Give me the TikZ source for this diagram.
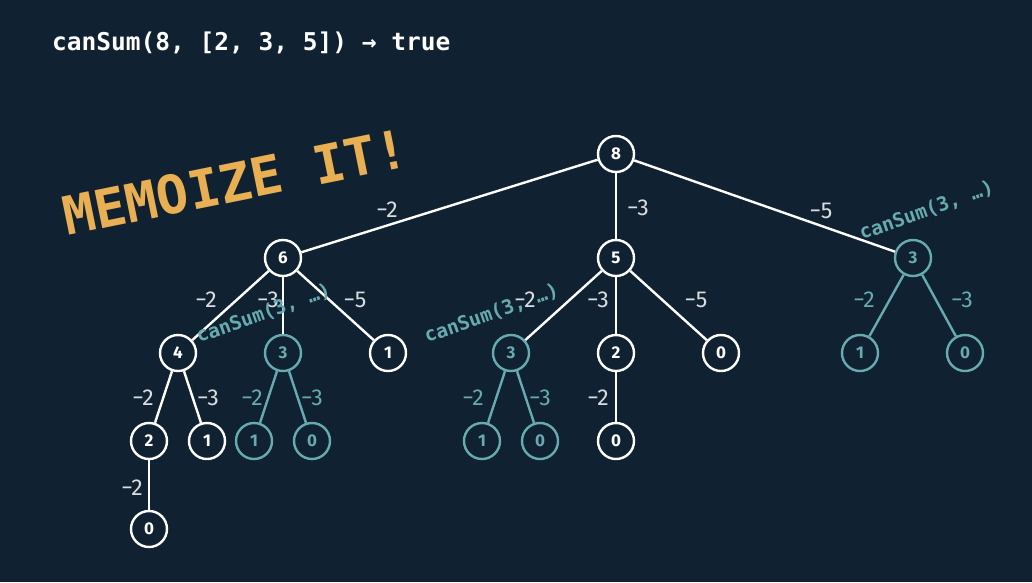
\documentclass[tikz,border=0pt]{standalone}
\usepackage{fontspec}
\setmainfont{Fira Sans}
\newfontfamily\codefont{DejaVu Sans Mono}
\definecolor{bgc}{HTML}{102232}
\definecolor{tealc}{HTML}{67AAB0}
\definecolor{orangec}{HTML}{E8B052}
\definecolor{lblc}{HTML}{DADDE0}
\tikzset{
  nd/.style={circle, draw=white, line width=2.4pt, minimum size=36pt, inner sep=0pt, text=white, font=\fontsize{17}{17}\selectfont\bfseries},
  tnd/.style={nd, draw=tealc, text=tealc},
  edge/.style={draw=white, line width=2.4pt},
  tedge/.style={draw=tealc, line width=2.4pt},
  lbl/.style={text=lblc, font=\fontsize{23}{23}\selectfont, inner sep=0pt},
  tlbl/.style={lbl, text=tealc},
  call/.style={text=tealc, font=\codefont\bfseries\fontsize{19.5}{19.5}\selectfont, inner sep=0pt, anchor=base west, rotate=19.5},
}
\begin{document}
\begin{tikzpicture}[x=1pt,y=-1pt]
\fill[bgc] (0,0) rectangle (1032,582);
\useasboundingbox (0,0) rectangle (1032,582);

% title
\node[text=white, font=\codefont\bfseries\fontsize{24.5}{24.5}\selectfont, anchor=base west, inner sep=0pt] (title) at (52,50) {canSum(8, [2, 3, 5]) → true};
\node[text=orangec, font=\codefont\bfseries\fontsize{53}{53}\selectfont, anchor=base west, inner sep=0pt, rotate=11.5] (memo) at (67,236) {MEMOIZE IT!};

% nodes
\node[nd] (n8) at (616,154) {8};
\node[nd] (n6) at (283,258) {6};
\node[nd] (n5) at (616,258) {5};
\node[tnd] (r3) at (913,258) {3};

\node[nd] (n4) at (178,353) {4};
\node[tnd] (a3) at (283,353) {3};
\node[nd] (a1) at (388,353) {1};
\node[tnd] (b3) at (511,353) {3};
\node[nd] (b2) at (616,353) {2};
\node[nd] (b0) at (721,353) {0};
\node[tnd] (r1) at (860,353) {1};
\node[tnd] (r0) at (965,353) {0};

\node[nd] (c2) at (149,441) {2};
\node[nd] (c1) at (207,441) {1};
\node[tnd] (d1) at (254,441) {1};
\node[tnd] (d0) at (312,441) {0};
\node[tnd] (e1) at (482,441) {1};
\node[tnd] (e0) at (540,441) {0};
\node[nd] (f0) at (616,441) {0};

\node[nd] (g0) at (149,529) {0};

% edges
\draw[edge] (n8) -- (n6);
\draw[edge] (n8) -- (n5);
\draw[edge] (n8) -- (r3);
\draw[edge] (n6) -- (n4);
\draw[edge] (n6) -- (a3);
\draw[edge] (n6) -- (a1);
\draw[edge] (n5) -- (b3);
\draw[edge] (n5) -- (b2);
\draw[edge] (n5) -- (b0);
\draw[tedge] (r3) -- (r1);
\draw[tedge] (r3) -- (r0);
\draw[edge] (n4) -- (c2);
\draw[edge] (n4) -- (c1);
\draw[tedge] (a3) -- (d1);
\draw[tedge] (a3) -- (d0);
\draw[tedge] (b3) -- (e1);
\draw[tedge] (b3) -- (e0);
\draw[edge] (b2) -- (f0);
\draw[edge] (c2) -- (g0);

% edge labels
\node[lbl] (l1) at (387,210) {−2};
\node[lbl] (l2) at (638,208) {−3};
\node[lbl] (l3) at (821,211) {−5};
\node[lbl] (l4) at (206,300) {−2};
\node[lbl] (l5) at (268,300) {−3};
\node[lbl] (l6) at (355,300) {−5};
\node[lbl] (l7) at (525,300) {−2};
\node[lbl] (l8) at (598,300) {−3};
\node[lbl] (l9) at (696,300) {−5};
\node[tlbl] (l10) at (864,300) {−2};
\node[tlbl] (l11) at (962,300) {−3};
\node[lbl] (l12) at (143,398) {−2};
\node[lbl] (l13) at (208,398) {−3};
\node[tlbl] (l14) at (252,398) {−2};
\node[tlbl] (l15) at (312,398) {−3};
\node[tlbl] (l16) at (473,398) {−2};
\node[tlbl] (l17) at (540,398) {−3};
\node[lbl] (l18) at (598,398) {−2};
\node[lbl] (l19) at (132,488) {−2};

% memo call labels
\node[call] (k1) at (199,343) {canSum(3, …)};
\node[call] (k2) at (427,343) {canSum(3, …)};
\node[call] (k3) at (862,240) {canSum(3, …)};
\end{tikzpicture}
\end{document}
